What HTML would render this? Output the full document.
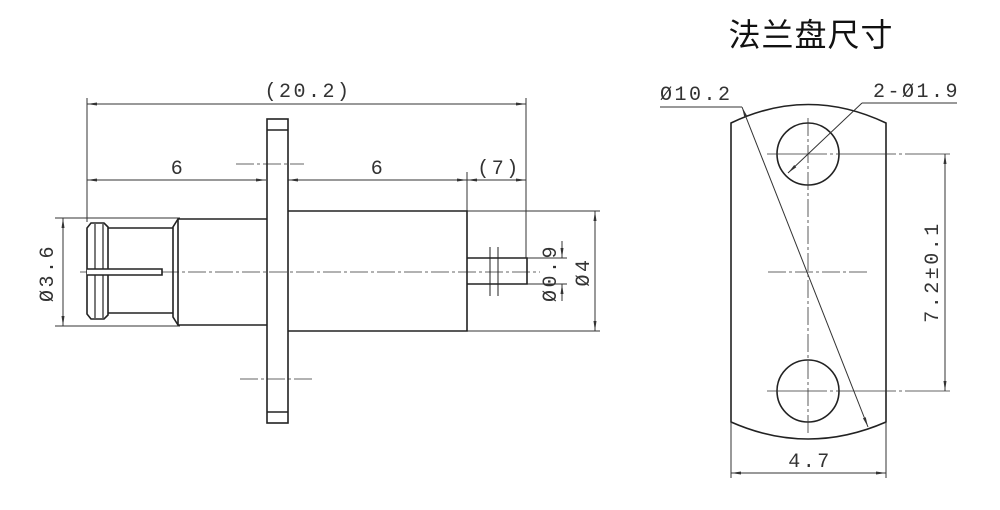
<!DOCTYPE html>
<html><head><meta charset="utf-8"><style>
html,body{margin:0;padding:0;background:#fff;}
svg{display:block;}
text{font-family:"Liberation Mono","Noto Sans CJK SC",monospace;fill:#333;letter-spacing:2.5px;}
</style></head><body>
<svg width="1000" height="510" viewBox="0 0 1000 510" xmlns="http://www.w3.org/2000/svg">
<defs>
<marker id="a" viewBox="0 0 10 4" refX="10" refY="2" markerWidth="10" markerHeight="4" orient="auto-start-reverse" markerUnits="userSpaceOnUse"><path d="M0,0.5 L10,2 L0,3.5z" fill="#333"/></marker>
</defs>
<g stroke="#333" fill="none" stroke-width="1">
<line x1="87" y1="98" x2="87" y2="222"/>
<line x1="526" y1="98" x2="526" y2="258"/>
<line x1="87" y1="104" x2="526" y2="104" marker-start="url(#a)" marker-end="url(#a)"/>
<line x1="87" y1="180" x2="266" y2="180" marker-start="url(#a)" marker-end="url(#a)"/>
<line x1="288" y1="180" x2="467" y2="180" marker-start="url(#a)" marker-end="url(#a)"/>
<line x1="467" y1="180" x2="526" y2="180" marker-start="url(#a)" marker-end="url(#a)"/>
<line x1="467" y1="172" x2="467" y2="211"/>
<line x1="55" y1="218" x2="180" y2="218"/>
<line x1="55" y1="326" x2="180" y2="326"/>
<line x1="63" y1="218" x2="63" y2="326" marker-start="url(#a)" marker-end="url(#a)"/>
<line x1="467" y1="211" x2="600" y2="211"/>
<line x1="467" y1="331" x2="600" y2="331"/>
<line x1="595" y1="211" x2="595" y2="331" marker-start="url(#a)" marker-end="url(#a)"/>
<line x1="527" y1="258" x2="567" y2="258"/>
<line x1="527" y1="284" x2="567" y2="284"/>
<line x1="562" y1="241" x2="562" y2="258" marker-end="url(#a)"/>
<line x1="562" y1="301" x2="562" y2="284" marker-end="url(#a)"/>
<line x1="80" y1="272" x2="540" y2="272" stroke-dasharray="18,3,3,3" stroke-width="0.8"/>
<line x1="236" y1="164" x2="304" y2="164" stroke-dasharray="18,3,3,3" stroke-width="0.8"/>
<line x1="240" y1="379" x2="315" y2="379" stroke-dasharray="18,3,3,3" stroke-width="0.8"/>
</g>
<g stroke="#222" fill="none" stroke-width="1.6">
<rect x="267" y="119" width="21" height="304"/>
<line x1="267" y1="130" x2="288" y2="130"/>
<line x1="267" y1="412" x2="288" y2="412"/>
<path d="M288,211 H467 V331 H288"/>
<path d="M467,258 H527 V284 H467"/>
<line x1="490" y1="247" x2="490" y2="296" stroke-width="1"/>
<line x1="498" y1="247" x2="498" y2="296" stroke-width="1"/>
<path d="M267,219 H178 L173,227 V317 L178,325 H267"/>
<line x1="178" y1="219" x2="178" y2="325"/>
<path d="M173,228 H108 M173,313 H108"/>
<path d="M108,227 L104,223 H91 L87,228 V314 L91,319 H104 L108,315 Z"/>
<line x1="95" y1="224" x2="95" y2="318" stroke-width="1.2"/>
<line x1="103" y1="224" x2="103" y2="318" stroke-width="1.2"/>
<path d="M87,269 H162 V275 H87" fill="#fff"/>
</g>
<text x="308" y="97" font-size="20" text-anchor="middle">(20.2)</text>
<text x="178" y="174" font-size="20" text-anchor="middle">6</text>
<text x="378" y="174" font-size="20" text-anchor="middle">6</text>
<text x="499" y="174" font-size="20" text-anchor="middle">(7)</text>
<text transform="translate(53,273) rotate(-90)" font-size="20" text-anchor="middle">Ø3.6</text>
<text transform="translate(556,273) rotate(-90)" font-size="20" text-anchor="middle">Ø0.9</text>
<text transform="translate(589,272) rotate(-90)" font-size="20" text-anchor="middle">Ø4</text>

<text x="811" y="46" font-size="32" text-anchor="middle" style="font-family:'Noto Sans CJK SC',sans-serif;fill:#111;letter-spacing:1px">法兰盘尺寸</text>
<g stroke="#222" fill="none" stroke-width="1.6">
<path d="M731,123 Q808,86 886,123 V422 Q808,456 731,422 Z"/>
<circle cx="808" cy="154" r="31"/>
<circle cx="808" cy="391" r="31"/>
</g>
<g stroke="#333" fill="none" stroke-width="1">
<line x1="808" y1="118" x2="808" y2="436" stroke-dasharray="18,3,3,3" stroke-width="0.8"/>
<line x1="768" y1="272" x2="868" y2="272" stroke-dasharray="18,3,3,3" stroke-width="0.8"/>
<line x1="767" y1="154" x2="950" y2="154" stroke-dasharray="60,3,3,3" stroke-width="0.8"/>
<line x1="767" y1="391" x2="950" y2="391" stroke-dasharray="60,3,3,3" stroke-width="0.8"/>
<line x1="945" y1="154" x2="945" y2="391" marker-start="url(#a)" marker-end="url(#a)"/>
<line x1="731" y1="422" x2="731" y2="478"/>
<line x1="886" y1="422" x2="886" y2="478"/>
<line x1="731" y1="473" x2="886" y2="473" marker-start="url(#a)" marker-end="url(#a)"/>
<line x1="660" y1="107" x2="742" y2="107"/>
<line x1="742" y1="107" x2="868" y2="427" marker-start="url(#a)" marker-end="url(#a)"/>
<line x1="862" y1="103" x2="957" y2="103"/>
<line x1="862" y1="103" x2="788" y2="173" marker-end="url(#a)"/>
</g>
<text x="660" y="100" font-size="20">Ø10.2</text>
<text x="960" y="97" font-size="20" text-anchor="end">2-Ø1.9</text>
<text transform="translate(938,272) rotate(-90)" font-size="20" text-anchor="middle">7.2±0.1</text>
<text x="810" y="467" font-size="20" text-anchor="middle">4.7</text>
</svg>
</body></html>
